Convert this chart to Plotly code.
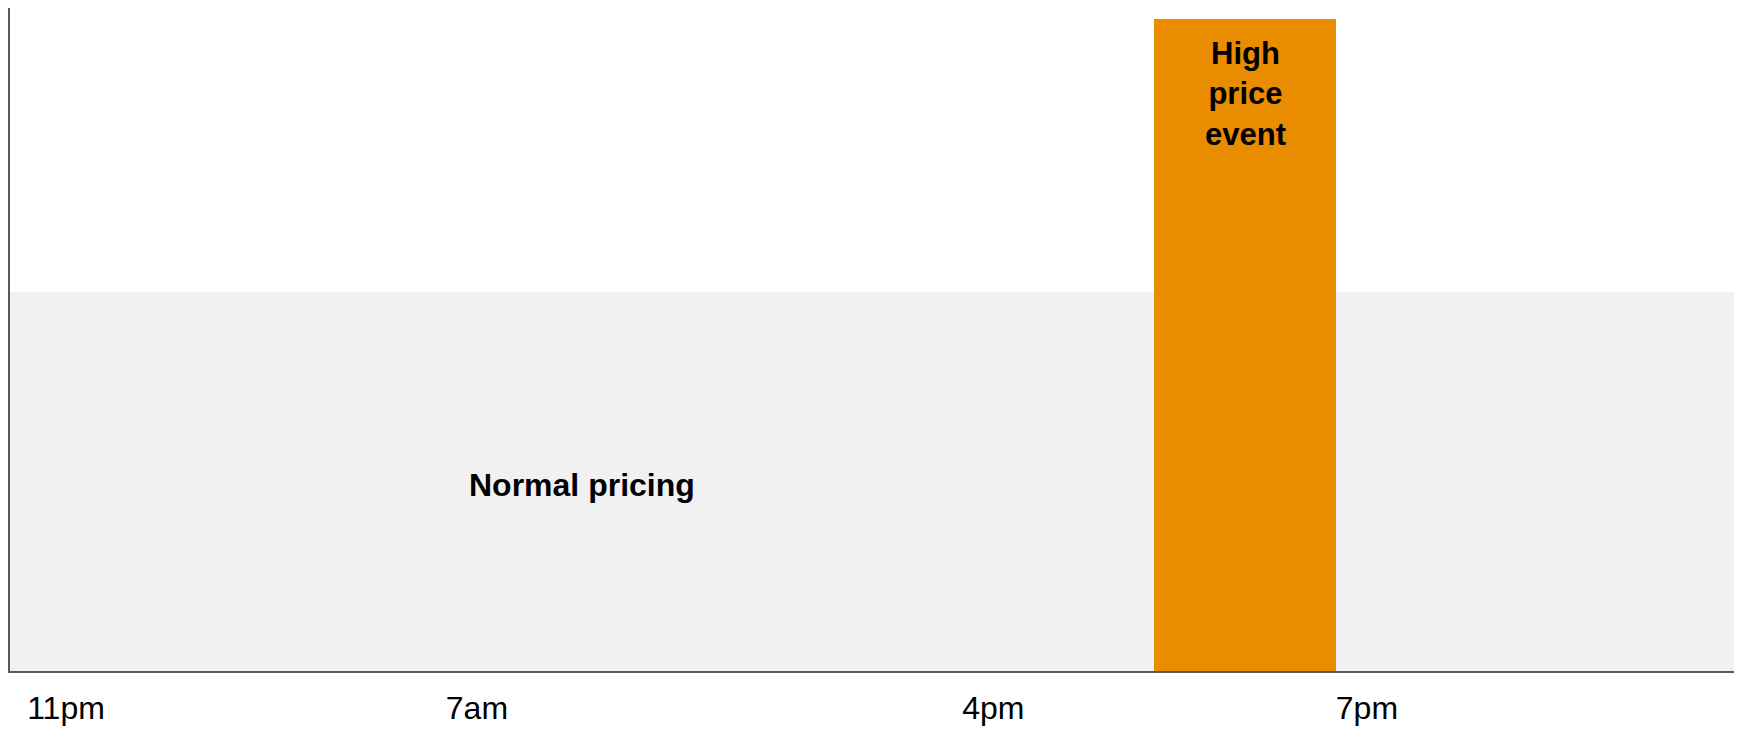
import plotly.graph_objects as go

# Time axis: hours after 11pm
day_start = 0.0
day_end = 24.0

# Price periods
normal_label = "Normal pricing"
normal_start = 0.0
normal_end = 24.0
normal_level = 1.0

event_label = "High<br>price<br>event"
event_start = 15.93
event_end = 18.46
event_level = 1.72

# Tick labels and where they sit on the time axis
tick_text = ["11pm", "7am", "4pm", "7pm"]
tick_hours = [0.78, 6.50, 13.69, 18.89]

FONT = "Arial, Liberation Sans, Helvetica, sans-serif"
GREY_BAND = "#F1F1F1"
ORANGE = "#EA8C00"
AXIS = "#595959"

fig = go.Figure()

fig.add_trace(go.Bar(
    x=[(normal_start + normal_end) / 2],
    y=[normal_level],
    width=[normal_end - normal_start],
    marker=dict(color=GREY_BAND, line=dict(width=0)),
    hoverinfo="skip",
    showlegend=False,
))

fig.add_trace(go.Bar(
    x=[(event_start + event_end) / 2],
    y=[event_level],
    width=[event_end - event_start],
    marker=dict(color=ORANGE, line=dict(width=0)),
    hoverinfo="skip",
    showlegend=False,
))

fig.add_annotation(
    x=(normal_start + event_start) / 2, y=normal_level * 0.49,
    text="<b>" + normal_label + "</b>", showarrow=False,
    font=dict(family=FONT, size=32, color="#000000"),
    xanchor="center", yanchor="middle",
)

fig.add_annotation(
    x=(event_start + event_end) / 2, y=event_level,
    text="<b>" + event_label + "</b>", showarrow=False,
    font=dict(family=FONT, size=31, color="#000000"),
    xanchor="center", yanchor="top", yshift=-15,
)

fig.update_layout(
    width=1741, height=729,
    margin=dict(l=10, r=7, t=8, b=58, autoexpand=False),
    paper_bgcolor="white", plot_bgcolor="white",
    barmode="overlay", bargap=0,
    font=dict(family=FONT, size=32, color="#000000"),
)

fig.update_xaxes(
    range=[day_start, day_end],
    tickmode="array", tickvals=tick_hours, ticktext=tick_text,
    ticks="", ticklen=0, ticklabelstandoff=8,
    tickfont=dict(family=FONT, size=32, color="#000000"),
    showgrid=False, zeroline=False,
    showline=True, linecolor=AXIS, linewidth=2,
    automargin=False, fixedrange=True,
)

fig.update_yaxes(
    range=[0, 1.75],
    showticklabels=False, ticks="",
    showgrid=False, zeroline=False,
    showline=True, linecolor=AXIS, linewidth=2,
    automargin=False, fixedrange=True,
)

fig.write_html("out.html", config={"displayModeBar": False})
